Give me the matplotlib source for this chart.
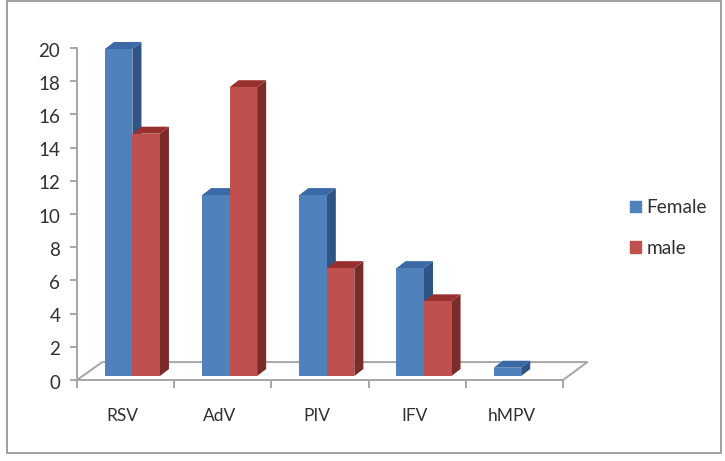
import matplotlib
matplotlib.use('Agg')
import matplotlib.pyplot as plt
from matplotlib.patches import Rectangle, Patch
from matplotlib.transforms import ScaledTranslation
import numpy as np

plt.rcParams['font.family'] = ['Lato', 'DejaVu Sans']

viruses = ['RSV', 'AdV', 'PIV', 'IFV', 'hMPV']
female = [19.7, 10.9, 10.9, 6.5, 0.5]
male = [14.6, 17.4, 6.5, 4.5, 0]
y_ticks = list(range(0, 21, 2))

W, H = 725, 461
BLUE = ('#4f81bd', '#2f5486', '#3a69a5')
RED = ('#c0504d', '#7a2c2a', '#98302e')
GRAY = '#a6a6a6'
TEXT = '#303030'

# one category is 97.2 px, one y unit 16.6 px
bar_w = 0.283
shift = 0.07
base = 0.24
depth_x = 0.093
depth_y = 0.42


def draw_bars(ax, xs, values, colors, zorder):
    for x, v in zip(xs, values):
        if v <= 0:
            continue
        ax.bar(x, v, bar_w, bottom=base, color=colors[0], align='edge',
               zorder=zorder + 0.2, clip_on=False)
        top = base + v
        ax.fill([x + bar_w, x + bar_w + depth_x, x + bar_w + depth_x, x + bar_w],
                [base, base + depth_y, top + depth_y, top],
                color=colors[1], lw=0, zorder=zorder, clip_on=False)
        ax.fill([x, x + depth_x, x + bar_w + depth_x, x + bar_w],
                [top, top + depth_y, top + depth_y, top],
                color=colors[2], lw=0, zorder=zorder, clip_on=False)


fig = plt.figure(figsize=(W / 100, H / 100), dpi=100)
fig.patches.append(Rectangle((7 / W, 1 - 453 / H), 714 / W, 452 / H, transform=fig.transFigure,
                             fill=False, ec='#a0a0a0', lw=1.4))

ax = fig.add_axes([77 / W, 1 - 380 / H, 486 / W, 332 / H])
ax.set_xlim(0, 5)
ax.set_ylim(0, 20)

# floor
floor_x = [0, 0.26, 5.25, 5]
floor_y = [0, 1.08, 1.08, 0]
ax.plot(floor_x, floor_y, color=GRAY, lw=1.4, clip_on=False, zorder=1)

pos = np.arange(len(viruses))
draw_bars(ax, pos + 0.5 + shift - bar_w, female, BLUE, 3)
draw_bars(ax, pos + 0.5 + shift, male, RED, 4)

for side in ['top', 'right']:
    ax.spines[side].set_visible(False)
for side in ['left', 'bottom']:
    ax.spines[side].set_color(GRAY)
    ax.spines[side].set_linewidth(1.4)

ax.set_yticks(y_ticks)
ax.set_xticks(np.arange(6))
ax.set_xticklabels([])
ax.set_xticks(pos + 0.47, viruses, minor=True)
ax.tick_params(axis='x', which='major', length=6, width=1.4, color=GRAY)
ax.tick_params(axis='x', which='minor', length=0, pad=20, labelsize=12.5, labelcolor=TEXT)
ax.tick_params(axis='y', length=5, width=1.4, color=GRAY, pad=7, labelsize=13.5, labelcolor=TEXT)

# the y labels sit a little under their ticks
for label in ax.get_yticklabels():
    label.set_transform(label.get_transform() + ScaledTranslation(0, -1.2 / 72, fig.dpi_scale_trans))

handles = [Patch(color=BLUE[0], label='Female'), Patch(color=RED[0], label='male')]
fig.legend(handles=handles, loc='center left', bbox_to_anchor=(613 / W, 1 - 228 / H),
           frameon=False, fontsize=13.7, labelcolor=TEXT, handlelength=0.55, handleheight=0.55,
           handletextpad=0.3, labelspacing=1.25)

fig.savefig('out.png', dpi=100)
